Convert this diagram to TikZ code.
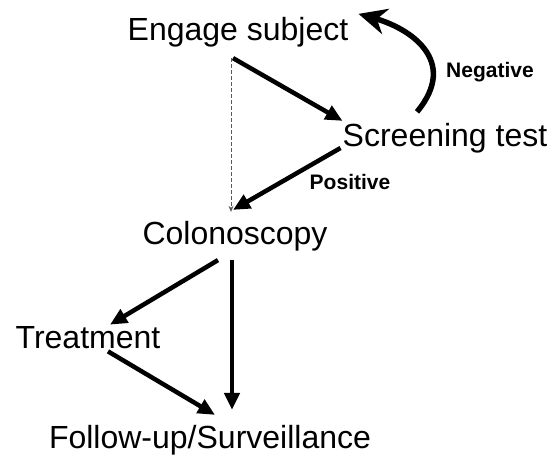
\documentclass[tikz,border=0pt]{standalone}
\usepackage{fontspec}
\setmainfont{Liberation Sans}
\usetikzlibrary{arrows.meta}

\begin{document}
\begin{tikzpicture}[x=1pt, y=-1pt,
    stage/.style={font=\fontsize{32}{36}\selectfont, inner sep=2pt},
    outcome/.style={font=\fontsize{21}{24}\selectfont\bfseries, inner sep=0pt},
    arrow/.style={-{Triangle[length=17pt, width=15pt]}, line width=4.5pt},
    loop/.style={-{Stealth[length=28pt, width=26pt, inset=9pt]}, line width=5.5pt},
    hint/.style={-{Stealth[length=6pt, width=5pt]}, gray!70!black, dash pattern=on 4pt off 2pt, line width=1pt}
]
    \useasboundingbox (0,0) rectangle (554,457);

    % Nodes
    \node[stage] (engage) at (238,32) {Engage subject};
    \node[stage] (screen) at (445,138) {Screening test};
    \node[stage] (colon) at (235,236) {Colonoscopy};
    \node[stage] (treat) at (88,338) {Treatment};
    \node[stage] (follow) at (210,440) {Follow-up/Surveillance};
    \node[outcome] (neg) at (490,72) {Negative};
    \node[outcome] (pos) at (350,182) {Positive};

    % Transitions
    \draw[arrow] ([xshift=-5pt, yshift=-9pt]engage.south) -- ([xshift=2pt]screen.north west);
    \draw[hint] ([xshift=-7pt, yshift=-9pt]engage.south) -- ([xshift=-4pt, yshift=7pt]colon.north);
    \draw[arrow] ([yshift=-10pt]screen.west) -- ([xshift=-2pt, yshift=9pt]colon.north);
    \draw[loop] ([xshift=-28pt, yshift=9pt]screen.north) .. controls +(43,-52) and +(50,14) .. ([xshift=8pt, yshift=1pt]engage.north east);
    \draw[arrow] ([xshift=-17pt, yshift=-7pt]colon.south) -- ([xshift=22pt]treat.north);
    \draw[arrow] ([xshift=-3pt, yshift=-7pt]colon.south) -- ([xshift=22pt, yshift=13pt]follow.north);
    \draw[arrow] ([xshift=20pt]treat.south) -- ([xshift=5pt, yshift=8pt]follow.north);
\end{tikzpicture}
\end{document}
